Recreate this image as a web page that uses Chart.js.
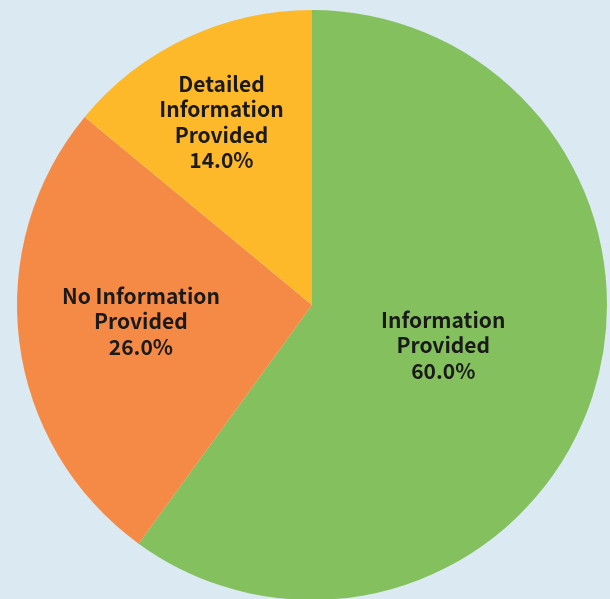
<!DOCTYPE html>
<html><head><meta charset="utf-8">
<script src="https://cdn.jsdelivr.net/npm/chart.js@4/dist/chart.umd.min.js"></script>
<style>
html,body{margin:0;padding:0;background:#dbeaf2;overflow:hidden;width:610px;height:599px;}
#wrap{position:absolute;left:0;top:0;width:610px;height:610px;}
</style></head><body>
<div id="wrap"><canvas id="c" width="610" height="610"></canvas></div>
<script>
const categories = ["Information Provided", "No Information Provided", "Detailed Information Provided"];
const values = [60.0, 26.0, 14.0];
const labelLines = [["Information","Provided"],["No Information","Provided"],["Detailed","Information","Provided"]];
const colors = ["#84c15e", "#f58a46", "#fdb92a"];
// label anchor as fraction of radius (x, y) relative to pie centre
const labelAnchor = [[0.445, 0.137], [-0.58, 0.055], [-0.307, -0.62]];

const labelPlugin = {
  id: 'sliceLabels',
  afterDatasetsDraw(chart) {
    const ctx = chart.ctx;
    const meta = chart.getDatasetMeta(0);
    ctx.save();
    ctx.font = 'bold 21px "Noto Sans CJK SC"';
    ctx.fillStyle = '#1a1a1a';
    ctx.textAlign = 'center';
    ctx.textBaseline = 'middle';
    const lh = 25.5;
    meta.data.forEach((arc, i) => {
      const lines = labelLines[i].concat([values[i].toFixed(1) + '%']);
      const cx = arc.x + labelAnchor[i][0] * arc.outerRadius;
      const cy = arc.y + labelAnchor[i][1] * arc.outerRadius;
      const y0 = cy - (lines.length - 1) * lh / 2;
      lines.forEach((t, j) => ctx.fillText(t, cx, y0 + j * lh));
    });
    ctx.restore();
  }
};

new Chart(document.getElementById('c'), {
  type: 'pie',
  data: {
    labels: categories,
    datasets: [{ data: values, backgroundColor: colors, borderWidth: 0, hoverOffset: 0 }]
  },
  options: {
    responsive: false,
    animation: false,
    layout: { padding: { left: 17, right: 3, top: 10, bottom: 10 } },
    plugins: { legend: { display: false }, tooltip: { enabled: false } }
  },
  plugins: [labelPlugin]
});
</script>
</body></html>
